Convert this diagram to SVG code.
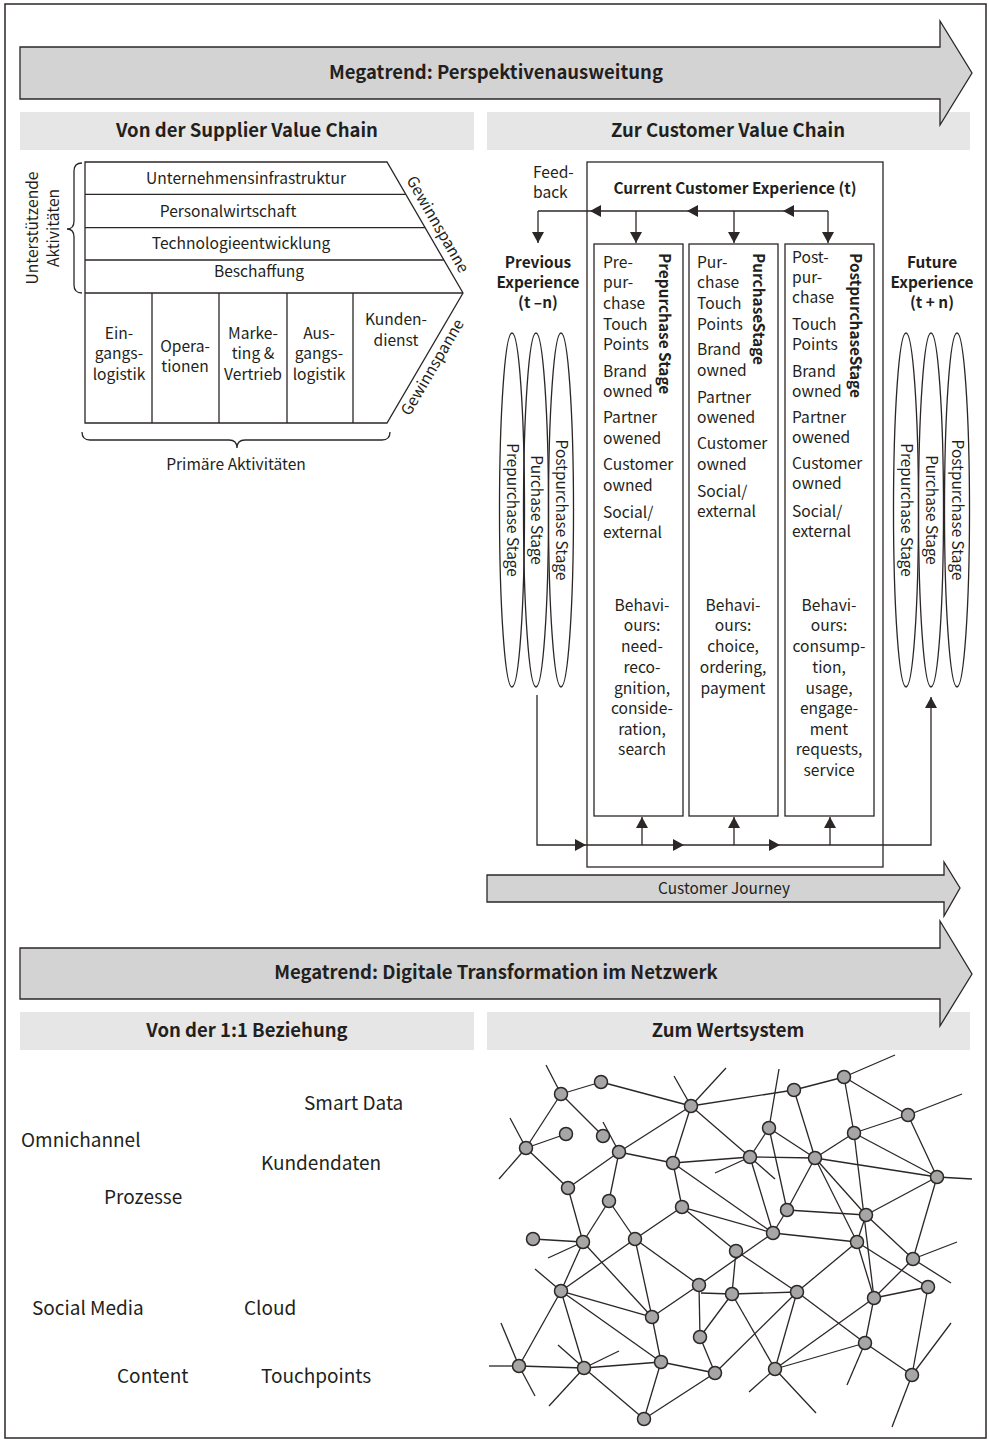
<svg xmlns="http://www.w3.org/2000/svg" width="989" height="1442" viewBox="0 0 989 1442">
<style>
text { font-family: "Noto Sans CJK SC", "Source Sans Pro", "Noto Sans", sans-serif; fill: #231f20; }
.h { font-size: 18.5px; font-weight: bold; }
.hm { text-anchor: middle; }
.t17 { font-size: 15.6px; }
.b16 { font-size: 15.4px; font-weight: bold; }
.r16 { font-size: 15.4px; }
.w21 { font-size: 19px; }
.ln { stroke: #2b2726; stroke-width: 1.3; fill: none; }
.big { fill: #d3d3d3; stroke: #2b2726; stroke-width: 1.3; }
.hdr { fill: #e6e6e6; }
.box { fill: none; stroke: #2b2726; stroke-width: 1.3; }
.arr { stroke: #2b2726; stroke-width: 1.3; fill: none; marker-end: url(#ah); }
.net line { stroke: #2b2726; stroke-width: 1.3; }
.net circle { fill: #a6a6a6; stroke: #2b2726; stroke-width: 1.5; }
</style>
<defs>
<marker id="ah" viewBox="0 0 11 12" refX="11" refY="6" markerWidth="11" markerHeight="12" markerUnits="userSpaceOnUse" orient="auto">
<path d="M0,0 L11,6 L0,12 z" fill="#2b2726"/>
</marker>
</defs>
<rect x="5" y="4" width="981" height="1434" fill="#fff" stroke="#2b2726" stroke-width="1.5"/>

<!-- Header boxes top -->
<g id="hdr-supplier">
<rect class="hdr" x="20" y="112" width="454" height="38"/>
<text class="h hm" x="247" y="137">Von der Supplier Value Chain</text>
</g>
<g id="hdr-customer">
<rect class="hdr" x="487" y="112" width="483" height="38"/>
<text class="h hm" x="728" y="137">Zur Customer Value Chain</text>
</g>
<g id="megatrend1">
<path class="big" d="M20,47 L940,47 L940,21 L972,73 L940,125 L940,99 L20,99 Z"/>
<text class="h hm" x="496" y="79">Megatrend: Perspektivenausweitung</text>
</g>

<!-- Value chain -->
<g id="valuechain">
<path class="box" d="M85,162 L387,162 L463,293 L387,423 L85,423 Z"/>
<path class="ln" d="M85,194.3 L405.7,194.3 M85,227.7 L425.1,227.7 M85,260 L443.9,260 M85,293 L463,293"/>
<path class="ln" d="M152,293 L152,423 M219,293 L219,423 M287,293 L287,423 M353,293 L353,423"/>
<text class="t17 hm" x="246" y="184">Unternehmensinfrastruktur</text>
<text class="t17 hm" x="228" y="217">Personalwirtschaft</text>
<text class="t17 hm" x="241" y="249">Technologieentwicklung</text>
<text class="t17 hm" x="259" y="277">Beschaffung</text>
<text class="t17 hm" x="119" y="339">Ein-</text>
<text class="t17 hm" x="119" y="359">gangs-</text>
<text class="t17 hm" x="119" y="380">logistik</text>
<text class="t17 hm" x="185" y="352">Opera-</text>
<text class="t17 hm" x="185" y="372">tionen</text>
<text class="t17 hm" x="253" y="339">Marke-</text>
<text class="t17 hm" x="253" y="359">ting &amp;</text>
<text class="t17 hm" x="253" y="380">Vertrieb</text>
<text class="t17 hm" x="319" y="339">Aus-</text>
<text class="t17 hm" x="319" y="359">gangs-</text>
<text class="t17 hm" x="319" y="380">logistik</text>
<text class="t17 hm" x="396" y="325">Kunden-</text>
<text class="t17 hm" x="396" y="346">dienst</text>
<text class="t17 hm" transform="translate(433,227) rotate(60)">Gewinnspanne</text>
<text class="t17 hm" transform="translate(437,370) rotate(-59.7)">Gewinnspanne</text>
<path class="ln" d="M82,163 Q74,163 74,171 L74,221 Q74,229 67,229 Q74,229 74,237 L74,285 Q74,293 82,293"/>
<text class="t17 hm" transform="translate(38,228) rotate(-90)">Unterstützende</text>
<text class="t17 hm" transform="translate(59,228) rotate(-90)">Aktivitäten</text>
<path class="ln" d="M82,432 Q82,440 90,440 L229,440 Q237,440 237,448 Q237,440 245,440 L382,440 Q390,440 390,432"/>
<text class="t17 hm" x="236" y="470">Primäre Aktivitäten</text>
</g>

<!-- Customer value chain -->
<g id="current-experience">
<rect class="box" x="587" y="162" width="296" height="705"/>
<text class="b16 hm" x="735" y="194">Current Customer Experience (t)</text>
</g>
<g id="feedback-label">
<text class="t17" x="533" y="178">Feed-</text>
<text class="t17" x="533" y="198">back</text>
</g>
<g id="stage-pre">
<rect class="box" x="594" y="244" width="89" height="572"/>
<text class="t17" x="603" y="268">Pre-</text>
<text class="t17" x="603" y="288">pur-</text>
<text class="t17" x="603" y="309">chase</text>
<text class="t17" x="603" y="330">Touch</text>
<text class="t17" x="603" y="350">Points</text>
<text class="t17" x="603" y="377">Brand</text>
<text class="t17" x="603" y="397">owned</text>
<text class="t17" x="603" y="423">Partner</text>
<text class="t17" x="603" y="444">owened</text>
<text class="t17" x="603" y="470">Customer</text>
<text class="t17" x="603" y="491">owned</text>
<text class="t17" x="603" y="518">Social/</text>
<text class="t17" x="603" y="538">external</text>
<text class="b16" transform="translate(659,253) rotate(90)">Prepurchase Stage</text>
<text class="t17 hm" x="642" y="611">Behavi-</text>
<text class="t17 hm" x="642" y="631">ours:</text>
<text class="t17 hm" x="642" y="652">need-</text>
<text class="t17 hm" x="642" y="673">reco-</text>
<text class="t17 hm" x="642" y="694">gnition,</text>
<text class="t17 hm" x="642" y="714">conside-</text>
<text class="t17 hm" x="642" y="735">ration,</text>
<text class="t17 hm" x="642" y="755">search</text>
</g>
<g id="stage-purchase">
<rect class="box" x="689" y="244" width="89" height="572"/>
<text class="t17" x="697" y="268">Pur-</text>
<text class="t17" x="697" y="288">chase</text>
<text class="t17" x="697" y="309">Touch</text>
<text class="t17" x="697" y="330">Points</text>
<text class="t17" x="697" y="355">Brand</text>
<text class="t17" x="697" y="376">owned</text>
<text class="t17" x="697" y="403">Partner</text>
<text class="t17" x="697" y="423">owened</text>
<text class="t17" x="697" y="449">Customer</text>
<text class="t17" x="697" y="470">owned</text>
<text class="t17" x="697" y="497">Social/</text>
<text class="t17" x="697" y="517">external</text>
<text class="b16" transform="translate(753,253) rotate(90)">PurchaseStage</text>
<text class="t17 hm" x="733" y="611">Behavi-</text>
<text class="t17 hm" x="733" y="631">ours:</text>
<text class="t17 hm" x="733" y="652">choice,</text>
<text class="t17 hm" x="733" y="673">ordering,</text>
<text class="t17 hm" x="733" y="694">payment</text>
</g>
<g id="stage-post">
<rect class="box" x="785" y="244" width="89" height="572"/>
<text class="t17" x="792" y="263">Post-</text>
<text class="t17" x="792" y="283">pur-</text>
<text class="t17" x="792" y="303">chase</text>
<text class="t17" x="792" y="330">Touch</text>
<text class="t17" x="792" y="350">Points</text>
<text class="t17" x="792" y="377">Brand</text>
<text class="t17" x="792" y="397">owned</text>
<text class="t17" x="792" y="423">Partner</text>
<text class="t17" x="792" y="443">owened</text>
<text class="t17" x="792" y="469">Customer</text>
<text class="t17" x="792" y="489">owned</text>
<text class="t17" x="792" y="517">Social/</text>
<text class="t17" x="792" y="537">external</text>
<text class="b16" transform="translate(850,253) rotate(90)">PostpurchaseStage</text>
<text class="t17 hm" x="829" y="611">Behavi-</text>
<text class="t17 hm" x="829" y="631">ours:</text>
<text class="t17 hm" x="829" y="652">consump-</text>
<text class="t17 hm" x="829" y="673">tion,</text>
<text class="t17 hm" x="829" y="694">usage,</text>
<text class="t17 hm" x="829" y="714">engage-</text>
<text class="t17 hm" x="829" y="735">ment</text>
<text class="t17 hm" x="829" y="755">requests,</text>
<text class="t17 hm" x="829" y="776">service</text>
</g>
<g id="previous-experience">
<text class="b16 hm" x="538" y="268">Previous</text>
<text class="b16 hm" x="538" y="288">Experience</text>
<text class="b16 hm" x="538" y="308">(t –n)</text>
<ellipse class="box" cx="512" cy="510" rx="12.5" ry="177"/>
<ellipse class="box" cx="536" cy="510" rx="12.5" ry="177"/>
<ellipse class="box" cx="561" cy="510" rx="12.5" ry="177"/>
<text class="r16 hm" transform="translate(507,510) rotate(90)">Prepurchase Stage</text>
<text class="r16 hm" transform="translate(531,510) rotate(90)">Purchase Stage</text>
<text class="r16 hm" transform="translate(556,510) rotate(90)">Postpurchase Stage</text>
</g>
<g id="future-experience">
<text class="b16 hm" x="932" y="268">Future</text>
<text class="b16 hm" x="932" y="288">Experience</text>
<text class="b16 hm" x="932" y="308">(t + n)</text>
<ellipse class="box" cx="906" cy="510" rx="12.5" ry="177"/>
<ellipse class="box" cx="931" cy="510" rx="12.5" ry="177"/>
<ellipse class="box" cx="957" cy="510" rx="12.5" ry="177"/>
<text class="r16 hm" transform="translate(901,510) rotate(90)">Prepurchase Stage</text>
<text class="r16 hm" transform="translate(926,510) rotate(90)">Purchase Stage</text>
<text class="r16 hm" transform="translate(952,510) rotate(90)">Postpurchase Stage</text>
</g>
<g id="customer-journey">
<path class="big" d="M487,875 L944,875 L944,862 L960,888 L944,916 L944,902 L487,902 Z"/>
<text class="r16 hm" x="724" y="894">Customer Journey</text>
</g>

<g id="connectors">
<line class="arr" x1="828" y1="211" x2="783" y2="211"/>
<line class="arr" x1="783" y1="211" x2="687" y2="211"/>
<line class="arr" x1="687" y1="211" x2="590" y2="211"/>
<line class="ln" x1="590" y1="211" x2="538" y2="211"/>
<line class="arr" x1="538" y1="211" x2="538" y2="243"/>
<line class="arr" x1="636" y1="211" x2="636" y2="243"/>
<line class="arr" x1="734" y1="211" x2="734" y2="243"/>
<line class="arr" x1="828" y1="211" x2="828" y2="243"/>
<polyline class="arr" points="537,695 537,845 586,845"/>
<line class="arr" x1="586" y1="845" x2="684" y2="845"/>
<line class="arr" x1="684" y1="845" x2="780" y2="845"/>
<polyline class="arr" points="780,845 931,845 931,697"/>
<line class="arr" x1="642" y1="845" x2="642" y2="817"/>
<line class="arr" x1="734" y1="845" x2="734" y2="817"/>
<line class="arr" x1="830" y1="845" x2="830" y2="817"/>
</g>

<!-- Lower section -->
<g id="hdr-relation">
<rect class="hdr" x="20" y="1012" width="454" height="38"/>
<text class="h hm" x="247" y="1037">Von der 1:1 Beziehung</text>
</g>
<g id="hdr-wertsystem">
<rect class="hdr" x="487" y="1012" width="483" height="38"/>
<text class="h hm" x="728" y="1037">Zum Wertsystem</text>
</g>
<g id="megatrend2">
<path class="big" d="M20,948 L940,948 L940,921 L972,974 L940,1026 L940,999 L20,999 Z"/>
<text class="h hm" x="496" y="979">Megatrend: Digitale Transformation im Netzwerk</text>
</g>

<g id="words">
<text class="w21" x="304" y="1110">Smart Data</text>
<text class="w21" x="21" y="1147">Omnichannel</text>
<text class="w21" x="261" y="1170">Kundendaten</text>
<text class="w21" x="104" y="1204">Prozesse</text>
<text class="w21" x="32" y="1315">Social Media</text>
<text class="w21" x="244" y="1315">Cloud</text>
<text class="w21" x="117" y="1383">Content</text>
<text class="w21" x="261" y="1383">Touchpoints</text>
</g>

<g id="network" class="net">
<line x1="561" y1="1094" x2="601" y2="1082"/>
<line x1="601" y1="1082" x2="691" y2="1106"/>
<line x1="561" y1="1094" x2="526" y2="1148"/>
<line x1="561" y1="1094" x2="603" y2="1136"/>
<line x1="561" y1="1094" x2="546" y2="1065"/>
<line x1="526" y1="1148" x2="566" y2="1134"/>
<line x1="526" y1="1148" x2="568" y2="1188"/>
<line x1="526" y1="1148" x2="510" y2="1118"/>
<line x1="526" y1="1148" x2="499" y2="1179"/>
<line x1="568" y1="1188" x2="619" y2="1152"/>
<line x1="568" y1="1188" x2="583" y2="1242"/>
<line x1="619" y1="1152" x2="691" y2="1106"/>
<line x1="619" y1="1152" x2="673" y2="1163"/>
<line x1="619" y1="1152" x2="609" y2="1201"/>
<line x1="619" y1="1152" x2="603" y2="1122"/>
<line x1="691" y1="1106" x2="674" y2="1076"/>
<line x1="691" y1="1106" x2="726" y2="1068"/>
<line x1="691" y1="1106" x2="794" y2="1090"/>
<line x1="691" y1="1106" x2="673" y2="1163"/>
<line x1="691" y1="1106" x2="750" y2="1157"/>
<line x1="673" y1="1163" x2="750" y2="1157"/>
<line x1="673" y1="1163" x2="682" y2="1207"/>
<line x1="673" y1="1163" x2="773" y2="1233"/>
<line x1="609" y1="1201" x2="583" y2="1242"/>
<line x1="609" y1="1201" x2="635" y2="1239"/>
<line x1="682" y1="1207" x2="635" y2="1239"/>
<line x1="682" y1="1207" x2="773" y2="1233"/>
<line x1="682" y1="1207" x2="736" y2="1251"/>
<line x1="533" y1="1239" x2="583" y2="1242"/>
<line x1="583" y1="1242" x2="548" y2="1258"/>
<line x1="583" y1="1242" x2="561" y2="1291"/>
<line x1="583" y1="1242" x2="652" y2="1317"/>
<line x1="635" y1="1239" x2="561" y2="1291"/>
<line x1="635" y1="1239" x2="652" y2="1317"/>
<line x1="635" y1="1239" x2="699" y2="1285"/>
<line x1="561" y1="1291" x2="535" y2="1269"/>
<line x1="561" y1="1291" x2="652" y2="1317"/>
<line x1="561" y1="1291" x2="661" y2="1362"/>
<line x1="561" y1="1291" x2="584" y2="1368"/>
<line x1="561" y1="1291" x2="519" y2="1366"/>
<line x1="652" y1="1317" x2="661" y2="1362"/>
<line x1="652" y1="1317" x2="699" y2="1285"/>
<line x1="701" y1="1293" x2="732" y2="1294"/>
<line x1="699" y1="1285" x2="700" y2="1337"/>
<line x1="699" y1="1285" x2="773" y2="1233"/>
<line x1="732" y1="1294" x2="736" y2="1251"/>
<line x1="732" y1="1294" x2="797" y2="1292"/>
<line x1="732" y1="1294" x2="700" y2="1337"/>
<line x1="732" y1="1294" x2="775" y2="1369"/>
<line x1="736" y1="1251" x2="797" y2="1292"/>
<line x1="773" y1="1233" x2="787" y2="1210"/>
<line x1="773" y1="1233" x2="750" y2="1157"/>
<line x1="773" y1="1233" x2="857" y2="1242"/>
<line x1="787" y1="1210" x2="769" y2="1128"/>
<line x1="787" y1="1210" x2="815" y2="1158"/>
<line x1="787" y1="1210" x2="866" y2="1215"/>
<line x1="769" y1="1128" x2="750" y2="1157"/>
<line x1="769" y1="1128" x2="815" y2="1158"/>
<line x1="769" y1="1128" x2="779" y2="1069"/>
<line x1="750" y1="1157" x2="815" y2="1158"/>
<line x1="750" y1="1157" x2="715" y2="1173"/>
<line x1="750" y1="1157" x2="775" y2="1179"/>
<line x1="794" y1="1090" x2="844" y2="1077"/>
<line x1="794" y1="1090" x2="815" y2="1158"/>
<line x1="844" y1="1077" x2="895" y2="1055"/>
<line x1="844" y1="1077" x2="908" y2="1115"/>
<line x1="844" y1="1077" x2="854" y2="1133"/>
<line x1="908" y1="1115" x2="962" y2="1094"/>
<line x1="908" y1="1115" x2="854" y2="1133"/>
<line x1="908" y1="1115" x2="937" y2="1177"/>
<line x1="854" y1="1133" x2="815" y2="1158"/>
<line x1="854" y1="1133" x2="937" y2="1177"/>
<line x1="854" y1="1133" x2="874" y2="1298"/>
<line x1="815" y1="1158" x2="937" y2="1177"/>
<line x1="815" y1="1158" x2="866" y2="1215"/>
<line x1="815" y1="1158" x2="857" y2="1242"/>
<line x1="937" y1="1177" x2="972" y2="1179"/>
<line x1="937" y1="1177" x2="866" y2="1215"/>
<line x1="937" y1="1177" x2="913" y2="1259"/>
<line x1="866" y1="1215" x2="857" y2="1242"/>
<line x1="866" y1="1215" x2="913" y2="1259"/>
<line x1="857" y1="1242" x2="797" y2="1292"/>
<line x1="857" y1="1242" x2="874" y2="1298"/>
<line x1="857" y1="1242" x2="928" y2="1287"/>
<line x1="913" y1="1259" x2="874" y2="1298"/>
<line x1="913" y1="1259" x2="957" y2="1242"/>
<line x1="913" y1="1259" x2="951" y2="1283"/>
<line x1="928" y1="1287" x2="874" y2="1298"/>
<line x1="928" y1="1287" x2="912" y2="1375"/>
<line x1="874" y1="1298" x2="775" y2="1369"/>
<line x1="874" y1="1298" x2="865" y2="1343"/>
<line x1="797" y1="1292" x2="775" y2="1369"/>
<line x1="797" y1="1292" x2="865" y2="1343"/>
<line x1="797" y1="1292" x2="715" y2="1373"/>
<line x1="865" y1="1343" x2="912" y2="1375"/>
<line x1="865" y1="1343" x2="775" y2="1369"/>
<line x1="865" y1="1343" x2="847" y2="1385"/>
<line x1="912" y1="1375" x2="951" y2="1323"/>
<line x1="912" y1="1375" x2="892" y2="1427"/>
<line x1="775" y1="1369" x2="749" y2="1392"/>
<line x1="775" y1="1369" x2="816" y2="1413"/>
<line x1="700" y1="1337" x2="715" y2="1373"/>
<line x1="715" y1="1373" x2="661" y2="1362"/>
<line x1="715" y1="1373" x2="644" y2="1419"/>
<line x1="661" y1="1362" x2="644" y2="1419"/>
<line x1="661" y1="1362" x2="584" y2="1368"/>
<line x1="584" y1="1368" x2="519" y2="1366"/>
<line x1="584" y1="1368" x2="644" y2="1419"/>
<line x1="584" y1="1368" x2="619" y2="1351"/>
<line x1="584" y1="1368" x2="558" y2="1345"/>
<line x1="584" y1="1368" x2="549" y2="1406"/>
<line x1="519" y1="1366" x2="501" y2="1323"/>
<line x1="519" y1="1366" x2="489" y2="1366"/>
<line x1="519" y1="1366" x2="535" y2="1396"/>
<circle cx="561" cy="1094" r="6.5"/>
<circle cx="601" cy="1082" r="6.5"/>
<circle cx="691" cy="1106" r="6.5"/>
<circle cx="526" cy="1148" r="6.5"/>
<circle cx="566" cy="1134" r="6.5"/>
<circle cx="603" cy="1136" r="6.5"/>
<circle cx="619" cy="1152" r="6.5"/>
<circle cx="673" cy="1163" r="6.5"/>
<circle cx="568" cy="1188" r="6.5"/>
<circle cx="609" cy="1201" r="6.5"/>
<circle cx="682" cy="1207" r="6.5"/>
<circle cx="533" cy="1239" r="6.5"/>
<circle cx="583" cy="1242" r="6.5"/>
<circle cx="635" cy="1239" r="6.5"/>
<circle cx="736" cy="1251" r="6.5"/>
<circle cx="773" cy="1233" r="6.5"/>
<circle cx="787" cy="1210" r="6.5"/>
<circle cx="769" cy="1128" r="6.5"/>
<circle cx="750" cy="1157" r="6.5"/>
<circle cx="794" cy="1090" r="6.5"/>
<circle cx="844" cy="1077" r="6.5"/>
<circle cx="908" cy="1115" r="6.5"/>
<circle cx="854" cy="1133" r="6.5"/>
<circle cx="815" cy="1158" r="6.5"/>
<circle cx="937" cy="1177" r="6.5"/>
<circle cx="866" cy="1215" r="6.5"/>
<circle cx="857" cy="1242" r="6.5"/>
<circle cx="913" cy="1259" r="6.5"/>
<circle cx="928" cy="1287" r="6.5"/>
<circle cx="874" cy="1298" r="6.5"/>
<circle cx="797" cy="1292" r="6.5"/>
<circle cx="732" cy="1294" r="6.5"/>
<circle cx="699" cy="1285" r="6.5"/>
<circle cx="561" cy="1291" r="6.5"/>
<circle cx="652" cy="1317" r="6.5"/>
<circle cx="700" cy="1337" r="6.5"/>
<circle cx="865" cy="1343" r="6.5"/>
<circle cx="519" cy="1366" r="6.5"/>
<circle cx="584" cy="1368" r="6.5"/>
<circle cx="661" cy="1362" r="6.5"/>
<circle cx="715" cy="1373" r="6.5"/>
<circle cx="775" cy="1369" r="6.5"/>
<circle cx="912" cy="1375" r="6.5"/>
<circle cx="644" cy="1419" r="6.5"/>
</g>
</svg>
